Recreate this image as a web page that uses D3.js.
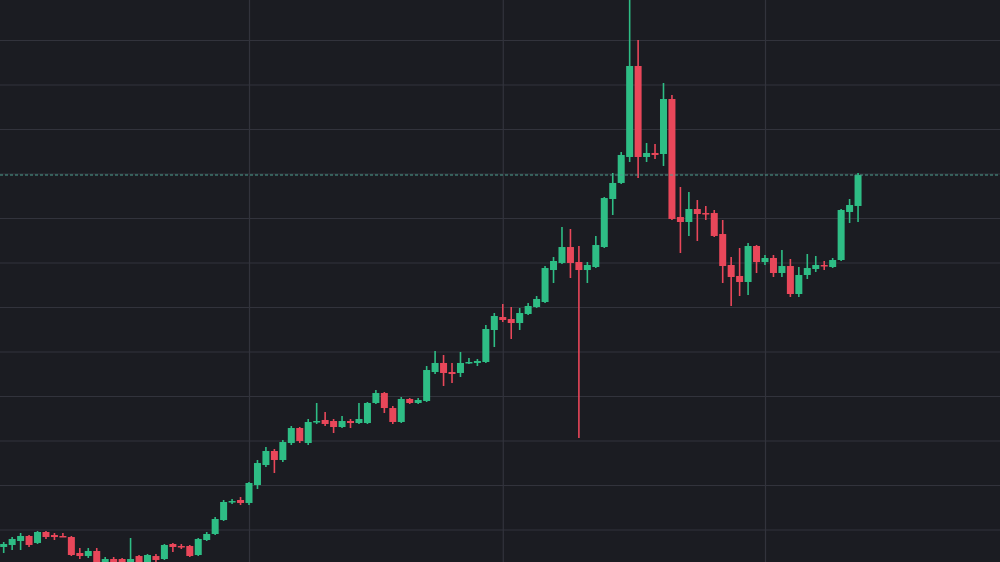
<!DOCTYPE html>
<html>
<head>
<meta charset="utf-8">
<script src="https://cdn.jsdelivr.net/npm/d3@7"></script>
<style>
  html, body { margin: 0; padding: 0; background: #1b1c22; overflow: hidden; }
  svg { display: block; }
</style>
</head>
<body>
<svg id="chart" width="1000" height="562"></svg>
<script>
// ---- data ----
const firstDay = "2023-08-03";
const lastDay = "2023-11-12";
const open = [6.07,6.52,7.42,8.54,6.97,9.44,8.76,8.54,8.31,4.72,4.04,5.17,2.47,3.37,3.37,2.47,4.04,2.47,4.04,3.37,
  6.74,6.29,6.29,4.27,7.64,8.99,12.13,16.18,16.63,15.96,20.00,24.49,27.64,25.62,29.44,32.81,29.44,34.16,34.61,34.38,
  33.03,34.38,33.93,33.93,38.43,40.67,37.30,34.16,39.33,38.43,38.88,45.39,47.42,45.39,45.17,47.42,47.42,47.64,54.83,57.75,
  57.30,56.40,58.43,60.00,61.12,68.31,69.89,73.48,70.11,68.31,68.99,73.48,84.27,87.87,93.71,114.16,93.71,94.61,94.38,106.74,
  80.22,79.10,82.02,81.12,81.12,76.40,69.44,66.97,65.62,73.71,70.11,71.01,67.64,69.21,62.92,67.19,68.54,69.44,68.99,70.56,
  81.35,82.70];
const high = [7.19,8.31,9.21,8.76,9.66,9.66,9.21,9.21,8.54,5.84,5.84,5.84,3.82,3.82,3.60,8.09,4.27,4.49,4.49,6.74,
  6.97,6.74,6.52,8.09,9.44,12.81,16.63,16.85,17.30,20.67,25.62,28.54,28.09,30.11,33.26,33.03,34.83,38.43,36.40,34.83,
  35.51,34.83,38.43,38.65,41.35,40.90,37.75,39.78,39.55,39.55,46.74,50.11,49.21,47.42,49.89,48.54,48.31,55.96,58.65,60.67,
  60.00,59.78,60.90,62.47,69.21,71.24,77.98,77.53,73.71,70.11,75.96,84.72,90.11,94.83,130.11,120.00,96.85,96.63,110.34,107.64,
  86.97,85.84,84.04,82.70,81.80,79.55,71.24,73.26,74.38,73.93,71.69,71.69,72.81,70.79,68.99,71.91,71.46,70.34,71.01,82.02,
  84.27,90.11];
const low = [4.72,5.39,5.39,6.07,6.74,7.87,7.64,8.31,4.04,3.37,3.60,2.02,1.80,1.80,1.80,1.80,2.02,2.02,2.70,3.15,
  4.94,5.62,3.82,4.04,7.42,8.76,11.91,15.73,15.51,15.51,19.10,24.04,22.70,25.17,28.99,29.44,28.99,33.71,33.26,31.69,
  32.81,32.81,33.71,33.71,38.20,36.18,33.71,33.93,38.20,38.20,38.65,44.94,42.25,42.92,44.27,47.19,46.74,47.42,51.01,56.63,
  52.81,54.83,58.20,59.78,60.90,65.39,69.66,66.52,30.56,65.39,68.76,73.26,80.67,87.64,92.58,88.99,92.58,93.26,91.69,79.55,
  72.13,75.96,74.83,79.55,75.73,65.39,60.22,62.47,62.70,67.64,69.44,66.74,66.74,62.25,62.25,66.29,67.87,68.31,68.76,70.34,
  78.88,79.10];
const close = [6.74,7.87,8.54,6.52,9.44,8.31,8.31,8.31,4.27,4.04,5.17,2.47,3.37,2.25,2.25,3.37,2.47,4.27,3.15,6.52,
  6.07,6.07,4.04,7.87,8.99,12.36,16.18,16.40,15.96,20.45,24.94,27.64,25.62,29.66,32.81,29.89,34.16,34.38,33.71,33.03,
  34.38,33.93,34.83,38.43,40.67,37.30,34.16,39.33,38.43,39.10,45.84,47.42,45.17,44.94,47.42,47.64,47.87,55.06,57.98,57.08,
  56.40,58.65,60.22,61.80,68.76,70.34,73.48,69.89,68.31,69.44,73.93,84.49,87.87,94.16,114.16,93.71,94.61,94.16,106.74,79.78,
  79.10,82.02,80.90,80.90,75.96,69.21,66.74,65.62,73.71,70.11,71.01,67.64,69.21,62.92,67.19,68.76,69.44,69.21,70.56,81.80,
  82.92,89.66];
const gridValues = [10,20,30,40,50,60,70,80,90,100,110,120];
const monthBreaks = ["2023-08-01","2023-09-01","2023-10-01","2023-11-01","2023-12-01"];

// ---- scales ----
const parse = d3.utcParse("%Y-%m-%d");
const dates = d3.utcDay.range(parse(firstDay), d3.utcDay.offset(parse(lastDay), 1));
const candles = dates.map((d, i) => ({date: d, o: open[i], h: high[i], l: low[i], c: close[i]}));

const W = 1000, H = 562;
const x = d3.scaleUtc().domain([parse("2023-09-01"), parse("2023-11-01")]).range([249, 765]);
const y = d3.scaleLinear().domain([10, 120]).range([529.5, 40]);

const svg = d3.select("#chart");
svg.append("rect").attr("width", W).attr("height", H).attr("fill", "#1b1c22");

const gridColor = "#32333c";
const yAxis = d3.axisRight(y).tickValues(gridValues).tickSize(W).tickFormat("");
svg.append("g").attr("class", "ygrid").call(yAxis)
  .call(g => g.select(".domain").remove())
  .call(g => g.selectAll("line").attr("stroke", gridColor).attr("stroke-width", 1.2));
const xAxis = d3.axisBottom(x).tickValues(monthBreaks.map(parse)).tickSize(H).tickFormat("");
svg.append("g").attr("class", "xgrid").call(xAxis)
  .call(g => g.select(".domain").remove())
  .call(g => g.selectAll("line").attr("stroke", gridColor).attr("stroke-width", 1.2));

const up = "#2ebd85", down = "#e9475a";
const bodyW = 7;

const g = svg.append("g");
const cg = g.selectAll("g.candle").data(candles).join("g").attr("class", "candle");
cg.append("line")
  .attr("x1", d => x(d.date))
  .attr("x2", d => x(d.date))
  .attr("y1", d => y(d.h))
  .attr("y2", d => y(d.l))
  .attr("stroke", d => d.c >= d.o ? up : down)
  .attr("stroke-width", 1.6);
cg.append("rect")
  .attr("x", d => x(d.date) - bodyW / 2)
  .attr("width", bodyW)
  .attr("y", d => y(Math.max(d.o, d.c)))
  .attr("height", d => Math.max(1.5, Math.abs(y(d.o) - y(d.c))))
  .attr("fill", d => d.c >= d.o ? up : down);

// last price dashed line
const last = candles[candles.length - 1];
svg.append("line")
  .attr("x1", 0).attr("x2", W)
  .attr("y1", y(last.c)).attr("y2", y(last.c))
  .attr("stroke", "#4c9e8e")
  .attr("stroke-width", 1.2)
  .attr("stroke-dasharray", "3,2");
</script>
</body>
</html>
